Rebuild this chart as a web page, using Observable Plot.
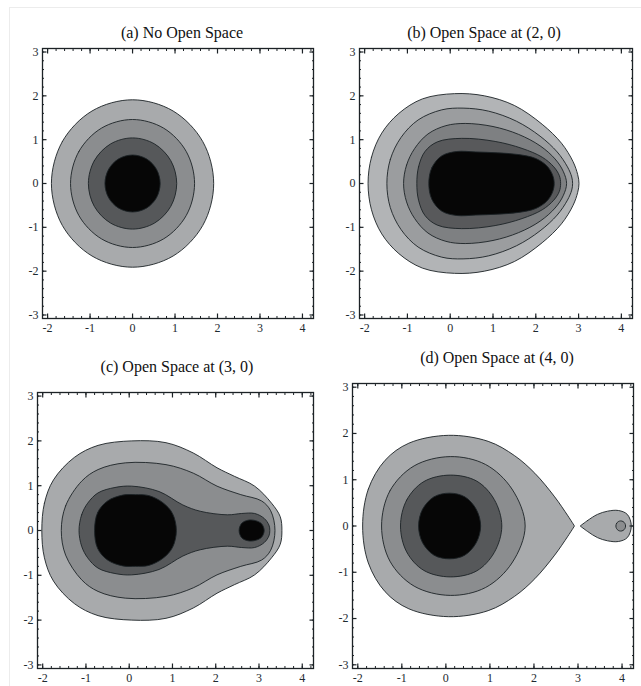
<!DOCTYPE html>
<html><head><meta charset="utf-8">
<script src="https://cdn.jsdelivr.net/npm/d3@7"></script>
<script src="https://cdn.jsdelivr.net/npm/@observablehq/plot@0.6"></script>
<style>
body{margin:0;background:#fff;}
#page{position:relative;width:641px;height:686px;overflow:hidden;font-family:"Liberation Serif","Times New Roman",serif;background:#fff;}
.title{position:absolute;font-size:16px;line-height:20px;color:#111;white-space:nowrap;transform:translateX(-50%);}
.panel{position:absolute;}
#edge{position:absolute;left:9px;top:7px;right:-2px;bottom:-2px;border-top:1px solid #ececec;border-left:1px solid #ececec;}
</style></head><body><div id="page"><div id="edge"></div></div>
<script>
// ---- axis ticks ----
const xMajor = [-2, -1, 0, 1, 2, 3, 4];
const yMajor = [-3, -2, -1, 0, 1, 2, 3];
const xMinor = [-2, -1.8, -1.6, -1.4, -1.2, -1, -0.8, -0.6, -0.4, -0.2, 0, 0.2, 0.4, 0.6, 0.8, 1, 1.2, 1.4, 1.6, 1.8, 2, 2.2, 2.4, 2.6, 2.8, 3, 3.2, 3.4, 3.6, 3.8, 4, 4.2];
const yMinor = [-3, -2.8, -2.6, -2.4, -2.2, -2, -1.8, -1.6, -1.4, -1.2, -1, -0.8, -0.6, -0.4, -0.2, 0, 0.2, 0.4, 0.6, 0.8, 1, 1.2, 1.4, 1.6, 1.8, 2, 2.2, 2.4, 2.6, 2.8, 3];
const xDomain = [-2.12, 4.26];
const yDomain = [-3.08, 3.08];

// ---- titles ----
const titles = ["(a) No Open Space", "(b) Open Space at (2, 0)", "(c) Open Space at (3, 0)", "(d) Open Space at (4, 0)"];

// ---- fill shades (outer level -> inner level) ----
const shades4 = ["#a8aaac", "#8b8d8f", "#56585a", "#060606"];
const shades5 = ["#b2b4b6", "#9b9d9f", "#7e8082", "#58595b", "#060606"];

// ---- contour lines, upper half (y >= 0); mirrored about y = 0 ----
// (a) No open space
const aC1 = [[-1.91,0],[-1.654,0.955],[-0.955,1.654],[0,1.91],[0.955,1.654],[1.654,0.955],[1.91,0]];
const aC2 = [[-1.46,0],[-1.264,0.73],[-0.73,1.264],[0,1.46],[0.73,1.264],[1.264,0.73],[1.46,0]];
const aC3 = [[-1.04,0],[-0.901,0.52],[-0.52,0.901],[0,1.04],[0.52,0.901],[0.901,0.52],[1.04,0]];
const aC4 = [[-0.65,0],[-0.563,0.325],[-0.325,0.563],[0,0.65],[0.325,0.563],[0.563,0.325],[0.65,0]];

// (b) Open space at (2, 0)
const bC1 = [[-1.92,0],[-1.84,0.6],[-1.6,1.15],[-1.2,1.6],[-0.65,1.93],[0.1,2.05],[0.8,2.0],[1.5,1.78],[2.15,1.35],[2.6,0.92],[2.87,0.5],[2.98,0.2],[3.01,0]];
const bC2 = [[-1.48,0],[-1.4,0.55],[-1.15,1.05],[-0.75,1.45],[-0.2,1.68],[0.3,1.72],[0.9,1.65],[1.55,1.42],[2.1,1.08],[2.5,0.72],[2.74,0.38],[2.84,0.15],[2.86,0]];
const bC3 = [[-1.09,0],[-1.02,0.42],[-0.83,0.8],[-0.52,1.13],[-0.1,1.32],[0.35,1.37],[1.0,1.3],[1.6,1.12],[2.1,0.86],[2.45,0.56],[2.64,0.28],[2.72,0]];
const bC4 = [[-0.78,0],[-0.74,0.38],[-0.59,0.73],[-0.3,0.95],[0.27,1.03],[1.05,0.96],[1.68,0.8],[2.15,0.6],[2.42,0.38],[2.55,0.18],[2.58,0]];
const bC5 = [[-0.5,0],[-0.43,0.36],[-0.2,0.63],[0.15,0.73],[0.6,0.72],[1.1,0.7],[1.6,0.66],[2.0,0.57],[2.26,0.4],[2.39,0.2],[2.43,0]];

// (c) Open space at (3, 0)
const cC1 = [[-2.02,0],[-1.96,0.61],[-1.75,1.13],[-1.27,1.63],[-0.72,1.9],[0.06,2.0],[0.85,1.96],[1.48,1.73],[2.03,1.4],[2.43,1.21],[2.9,0.99],[3.29,0.61],[3.49,0.31],[3.53,0]];
const cC2 = [[-1.57,0],[-1.47,0.55],[-1.1,1.1],[-0.72,1.36],[-0.09,1.51],[0.85,1.47],[1.48,1.28],[2.03,0.99],[2.58,0.8],[3.06,0.66],[3.27,0.44],[3.37,0]];
const cC3 = [[-1.16,0],[-1.1,0.35],[-0.96,0.61],[-0.72,0.84],[-0.33,0.96],[0.06,0.99],[0.69,0.87],[1.24,0.57],[1.64,0.43],[2.27,0.35],[2.6,0.38],[2.9,0.38],[3.12,0.27],[3.23,0.12],[3.25,0]];
const cC4 = [[-0.8,0],[-0.73,0.4],[-0.5,0.66],[-0.15,0.79],[0.14,0.8],[0.45,0.78],[0.78,0.62],[1.0,0.38],[1.09,0]];
const cC4b = [[2.54,0],[2.6,0.16],[2.75,0.23],[2.92,0.22],[3.06,0.15],[3.12,0]];

// (d) Open space at (4, 0)
const dC1 = [[-1.89,0],[-1.76,0.8],[-1.38,1.42],[-0.84,1.79],[0.06,1.96],[0.96,1.83],[1.56,1.52],[2.02,1.14],[2.47,0.63],[2.77,0.22],[2.92,0]];
const dC2 = [[-1.46,0],[-1.27,0.76],[-0.72,1.3],[0.1,1.5],[0.9,1.33],[1.5,0.8],[1.8,0]];
const dC3 = [[-1.03,0],[-0.89,0.56],[-0.5,0.96],[0.1,1.1],[0.7,0.97],[1.1,0.57],[1.27,0]];
const dC4 = [[-0.62,0],[-0.53,0.36],[-0.27,0.63],[0.08,0.71],[0.43,0.63],[0.69,0.36],[0.79,0]];
const dC1b = [[3.05,0],[3.22,0.12],[3.44,0.25],[3.67,0.32],[3.92,0.335],[4.12,0.25],[4.21,0]];
const dC2b = [[3.86,0],[3.875,0.055],[3.915,0.095],[3.97,0.11],[4.025,0.095],[4.065,0.055],[4.08,0]];

// build a closed loop from an upper half; cusp duplicates the pointed end
function loop(upper, cusp) {
  const lower = upper.slice(1, -1).reverse().map(([x, y]) => [x, -y]);
  const pts = [...upper];
  if (cusp === "right") pts.push(upper[upper.length - 1]);
  pts.push(...lower);
  if (cusp === "left") pts.push(upper[0]);
  return pts;
}

const panels = [
  {title: titles[0], tx: 182, ty: 23, L: 42, R: 313, T: 48, B: 318,
   contours: [[aC1, shades4[0]], [aC2, shades4[1]], [aC3, shades4[2]], [aC4, shades4[3]]]},
  {title: titles[1], tx: 484, ty: 23, L: 359, R: 632, T: 48, B: 318,
   contours: [[bC1, shades5[0]], [bC2, shades5[1]], [bC3, shades5[2]], [bC4, shades5[3]], [bC5, shades5[4]]]},
  {title: titles[2], tx: 177, ty: 357, L: 37, R: 313, T: 392, B: 668,
   contours: [[cC1, shades4[0]], [cC2, shades4[1]], [cC3, shades4[2]], [cC4, shades4[3]], [cC4b, shades4[3]]]},
  {title: titles[3], tx: 497, ty: 348, L: 352, R: 633, T: 383, B: 668,
   contours: [[dC1, shades4[0], "right"], [dC2, shades4[1]], [dC3, shades4[2]], [dC4, shades4[3]], [dC1b, shades4[0], "left"], [dC2b, shades4[1]]]}
];

const page = document.getElementById("page");
const mL = 34, mT = 8, mR = 10, mB = 24;
const ink = "#1c2226";

for (const p of panels) {
  const t = document.createElement("div");
  t.className = "title";
  t.style.left = p.tx + "px";
  t.style.top = p.ty + "px";
  t.textContent = p.title;
  page.appendChild(t);

  const marks = p.contours.map(([c, color, cusp]) =>
    Plot.line(loop(c, cusp), {x: d => d[0], y: d => d[1], fill: color, stroke: ink, strokeWidth: 0.9, curve: "catmull-rom-closed"})
  );
  marks.push(Plot.frame({stroke: ink, strokeWidth: 1.3}));
  for (const anchor of ["bottom", "top"]) {
    marks.push(Plot.axisX({anchor, ticks: xMinor, tickSize: -2, tickFormat: () => "", label: null, stroke: ink}));
    marks.push(Plot.axisX({anchor, ticks: xMajor, tickSize: -4.5, tickFormat: () => "", label: null, stroke: ink, strokeWidth: 1.2}));
  }
  for (const anchor of ["left", "right"]) {
    marks.push(Plot.axisY({anchor, ticks: yMinor, tickSize: -2, tickFormat: () => "", label: null, stroke: ink}));
    marks.push(Plot.axisY({anchor, ticks: yMajor, tickSize: -4.5, tickFormat: () => "", label: null, stroke: ink, strokeWidth: 1.2}));
  }
  marks.push(Plot.axisX({anchor: "bottom", ticks: xMajor, tickSize: 0, tickPadding: 5, tickFormat: d => String(d), label: null, fontSize: 12, fill: "#1e2a30"}));
  marks.push(Plot.axisY({anchor: "left", ticks: yMajor, tickSize: 0, tickPadding: 4, tickFormat: d => String(d), label: null, fontSize: 12, fill: "#1e2a30"}));

  const svg = Plot.plot({
    width: (p.R - p.L) + mL + mR,
    height: (p.B - p.T) + mT + mB,
    marginLeft: mL, marginRight: mR, marginTop: mT, marginBottom: mB,
    x: {domain: xDomain},
    y: {domain: yDomain},
    style: {background: "transparent", fontFamily: "'Liberation Serif', 'Times New Roman', serif", overflow: "visible"},
    marks
  });
  svg.classList.add("panel");
  svg.style.left = (p.L - mL) + "px";
  svg.style.top = (p.T - mT) + "px";
  page.appendChild(svg);
}
</script></body></html>
